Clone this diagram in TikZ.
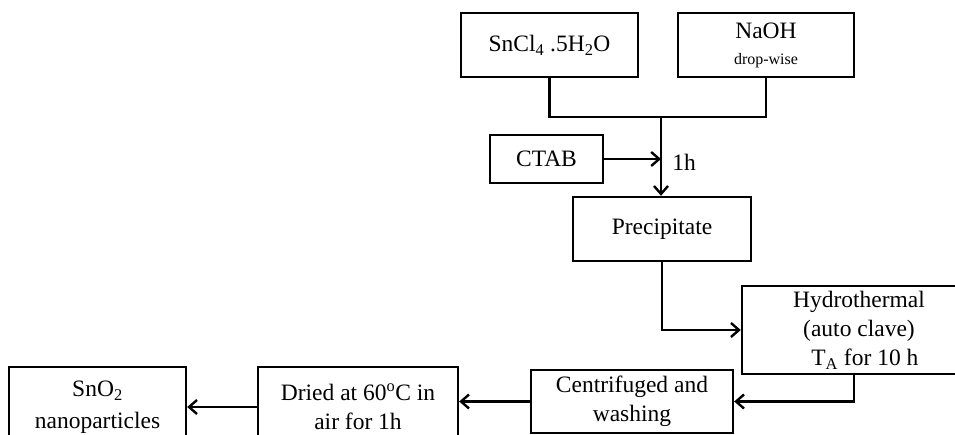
\documentclass[tikz,border=0pt]{standalone}
\usepackage{fontspec}
\setmainfont{Liberation Serif}
\usetikzlibrary{arrows.meta}

\begin{document}
\begin{tikzpicture}[x=1pt,y=-1pt,line width=2.4pt,line join=miter,
  every node/.style={font=\fontsize{23.5}{29}\selectfont},
  stage/.style={draw,rectangle,align=center,inner sep=0pt},
  flow/.style={-{Straight Barb[length=8pt,width=14pt]}}]
  \useasboundingbox (0,0) rectangle (955,435);
  \clip (0,0) rectangle (955,435);
  % starting materials
  \node[stage,minimum width=177,minimum height=64] (sncl) at (549.5,45) {SnCl\textsubscript{4} .5H\textsubscript{2}O};
  \node[stage,minimum width=176,minimum height=64] (naoh) at (766,45) {NaOH\\[-3pt]{\fontsize{16}{18}\selectfont drop-wise}};
  \coordinate (join) at (661,117);
  \draw (sncl.south) |- (join) -| (naoh.south);
  % surfactant
  \node[stage,minimum width=113,minimum height=48] (ctab) at (546.5,159) {CTAB};
  \draw[flow] (ctab.east) -- (ctab.east -| join);
  \node (onehour) at (684,162) {1h};
  % precipitation and hydrothermal step
  \node[stage,minimum width=178,minimum height=64] (prec) at (662,229) {Precipitate};
  \draw[flow] (join) -- (join |- prec.north);
  \node[stage,minimum width=234,minimum height=88] (hydro) at (859,330) {Hydrothermal\\(auto clave)\\\ \ T\textsubscript{A} for 10 h};
  \draw[flow] (prec.south) |- (hydro.west);
  % work-up
  \node[stage,minimum width=202,minimum height=63] (centr) at (632,401.5) {Centrifuged and\\washing};
  \draw[flow] ([xshift=-5pt]hydro.south) |- (centr.east);
  \node[stage,minimum width=200,minimum height=80] (dried) at (358,407) {Dried at 60\textsuperscript{o}C in\\air for 1h};
  \draw[flow] (centr.west) -- (centr.west -| dried.east);
  \node[stage,minimum width=177,minimum height=80] (sno) at (97.5,407) {SnO\textsubscript{2}\\[3pt]nanoparticles};
  \draw[flow] (dried.west) -- (dried.west -| sno.east);
\end{tikzpicture}
\end{document}
